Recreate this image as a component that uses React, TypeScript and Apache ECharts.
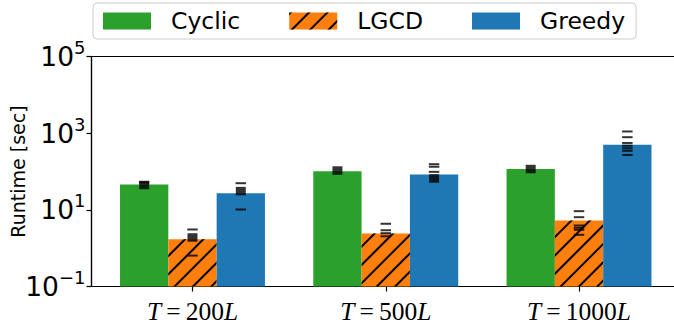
import React, { useEffect, useRef } from 'react';
import * as echarts from 'echarts';

const categories = ['200', '500', '1000'];
const methods = ['Cyclic', 'LGCD', 'Greedy'];
const colors = ['#2ca02c', '#ff7f0e', '#1f77b4'];
const offsets = [-0.25, 0, 0.25];

// bar heights (runtime in seconds)
const cyclic = [46, 102, 117];
const lgcd = [1.71, 2.42, 5.27];
const greedy = [27.2, 83.6, 498];

// square markers
const cyclicMean = [44.5, 106, 116];
const lgcdMean = [1.9, null, null];
const greedyMean = [30.8, 65.8, null];

// individual runs (dash markers)
const cyclicRuns = [[51.6], [], []];
const lgcdRuns = [[3.07, 0.64], [4.33, 2.93, 2.46, 2.04], [9.23, 6.43, 3.9, 3.4, 3.01, 2.23]];
const greedyRuns = [[49.5, 10.2], [155, 133, 98], [1107, 785, 555, 471, 403, 347, 270]];

const yTicks = [0.1, 10, 1000, 100000];

const FONT = 'DejaVu Sans';

export default function App() {
  const ref = useRef<HTMLDivElement>(null);
  useEffect(() => {
    const chart = echarts.init(ref.current!, null, { renderer: 'svg' });
    const barVals = [cyclic, lgcd, greedy];
    const means = [cyclicMean, lgcdMean, greedyMean];
    const runs = [cyclicRuns, lgcdRuns, greedyRuns];

    const barSeries = methods.map((name, k) => ({
      type: 'bar',
      name,
      data: barVals[k].map((v, i) => [i + offsets[k], v]),
      barWidth: 48.3,
      barGap: '-100%',
      itemStyle: {
        color: colors[k],
        ...(k === 1
          ? {
              decal: {
                symbol: 'rect',
                symbolSize: 1,
                color: '#000',
                dashArrayX: [[1, 0]],
                dashArrayY: [1.5, 11],
                rotation: -Math.PI / 4,
              },
            }
          : {}),
      },
      z: 2,
    }));

    const squareData: number[][] = [];
    means.forEach((arr, k) =>
      arr.forEach((v, i) => {
        if (v != null) squareData.push([i + offsets[k], v]);
      })
    );
    const dashData: number[][] = [];
    runs.forEach((arr, k) =>
      arr.forEach((list, i) => list.forEach((v) => dashData.push([i + offsets[k], v])))
    );

    const option = {
      animation: false,
      aria: { enabled: false },
      grid: {
        left: 91.5,
        right: -6,
        top: 56.5,
        bottom: 40.5,
        outerBoundsMode: 'none',
        containLabel: false,
        show: true,
        borderColor: '#000',
        borderWidth: 1.2,
        backgroundColor: 'transparent',
      },
      legend: {
        data: methods,
        left: 93,
        top: 3,
        padding: [6, 11, 6, 10],
        itemWidth: 48,
        itemHeight: 17,
        itemGap: 49,
        icon: 'rect',
        borderColor: '#cccccc',
        borderWidth: 1,
        borderRadius: 4,
        backgroundColor: '#fff',
        textStyle: { fontFamily: FONT, fontSize: 23.5, color: '#000', padding: [0, 0, 0, 15] },
      },
      xAxis: {
        type: 'value',
        min: -0.5225,
        max: 2.5225,
        splitLine: { show: false },
        axisLine: { show: true, onZero: false, lineStyle: { color: '#000', width: 1.2 } },
        axisTick: { show: true, customValues: [0, 1, 2], length: 5, lineStyle: { color: '#000', width: 1.2 } },
        axisLabel: {
          customValues: [0, 1, 2],
          margin: 12,
          formatter: (v: number) => `{i|T}{r|\u2009=\u2009${categories[Math.round(v)]}}{i|L}`,
          rich: {
            i: { fontFamily: 'Liberation Serif', fontStyle: 'italic', fontSize: 25.5, color: '#000' },
            r: { fontFamily: 'Liberation Serif', fontSize: 25.5, color: '#000' },
          },
        },
      },
      yAxis: {
        type: 'log',
        logBase: 10,
        min: 0.1,
        max: 100000,
        interval: 2,
        startValue: 0.1,
        name: 'Runtime [sec]',
        nameLocation: 'middle',
        nameGap: 64,
        nameMoveOverlap: false,
        nameTextStyle: { fontFamily: FONT, fontSize: 19, color: '#000' },
        splitLine: { show: false },
        minorTick: { show: false },
        axisLine: { show: true, onZero: false, lineStyle: { color: '#000', width: 1.2 } },
        axisTick: { show: true, length: 5, lineStyle: { color: '#000', width: 1.2 } },
        axisLabel: {
          margin: 6,
          customValues: yTicks,
          formatter: (v: number) => {
            const e = Math.round(Math.log10(v));
            return `{b|10}{s|${e < 0 ? '\u2212' + Math.abs(e) : e}}`;
          },
          rich: {
            b: { fontFamily: FONT, fontSize: 26.5, color: '#000' },
            s: { fontFamily: FONT, fontSize: 18, color: '#000', padding: [0, 0, 18, 0] },
          },
        },
      },
      series: [
        ...barSeries,
        {
          type: 'scatter',
          name: 'mean',
          data: squareData,
          symbol: 'rect',
          symbolSize: [10, 8.5],
          itemStyle: { color: '#000' },
          z: 5,
        },
        {
          type: 'scatter',
          name: 'runs',
          data: dashData,
          symbol: 'rect',
          symbolSize: [10.5, 2],
          itemStyle: { color: '#000' },
          z: 6,
        },
      ],
    };
    chart.setOption(option as any);
    return () => chart.dispose();
  }, []);
  return <div ref={ref} style={{ position: 'absolute', left: 0, top: 0, width: 674, height: 327 }} />;
}
